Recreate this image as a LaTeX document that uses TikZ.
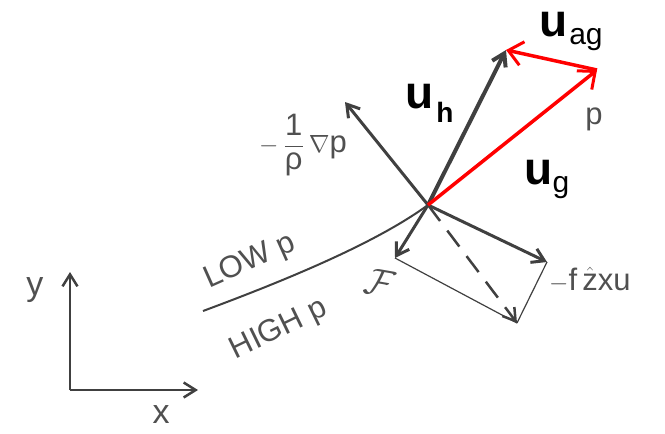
\documentclass[tikz,border=0pt]{standalone}
\usepackage{amsmath}
\usepackage{fontspec}
\setmainfont{Liberation Sans}
\usetikzlibrary{arrows.meta}

\definecolor{vecgray}{RGB}{64,64,64}
\definecolor{txtgray}{RGB}{80,80,80}

\begin{document}
\begin{tikzpicture}[x=1pt,y=-1pt,>={Straight Barb[length=12pt,width=15pt]},
    gvec/.style={draw=vecgray,line width=3pt,->},
    rvec/.style={draw=red,line width=3.5pt,->,>={Straight Barb[length=14pt,width=24pt,line width=3pt]}},
    fline/.style={draw=vecgray,line width=1.2pt},
    glbl/.style={text=txtgray,font=\fontsize{31}{33}\selectfont,inner sep=0pt},
    blbl/.style={font=\fontsize{46}{48}\selectfont\bfseries,inner sep=0pt}]
            \useasboundingbox (0,0) rectangle (665,434);
            % points of the vector diagram
            \coordinate (O) at (428,205);
            \coordinate (uh) at (506,50);
            \coordinate (ug) at (597,70);
            \coordinate (gp) at (345,102);
            \coordinate (cor) at (547,262);
            \coordinate (fr) at (395,258);
            \coordinate (res) at (517,323);
            \coordinate (iso) at (203,311);
            % axes
            \coordinate (ax) at (70,390);
            \coordinate (ay) at (70,272);
            \coordinate (axx) at (198,390);
            \draw [gvec,line width=2.5pt] (ax) -- (ay);
            \draw [gvec,line width=2.5pt] (ax) -- (axx);
            \node [glbl,font=\fontsize{34}{36}\selectfont] (ylab) at (35,290) {y};
            \node [glbl,font=\fontsize{34}{36}\selectfont] (xlab) at (161,415) {x};
            % isobar
            \draw [draw=vecgray,line width=2pt] (iso) .. controls (300,275) and (380,240) .. (O);
            \node [glbl,rotate=24] (low) at (250,262) {LOW p};
            \node [glbl,rotate=26] (high) at (279,330) {HIGH p};
            % forces
            \draw [fline] (fr) -- (res);
            \draw [fline] (cor) -- (res);
            \draw [gvec,line width=2.5pt,dash pattern=on 20pt off 12pt] (O) -- (res);
            \draw [gvec] (O) -- (gp);
            \draw [gvec] (O) -- (cor);
            \draw [gvec] (O) -- (fr);
            \draw [gvec,line width=4pt] (O) -- (uh);
            \node [glbl] (gplab) at (303,145) {$-$\,$\dfrac{\text{1}}{\text{ρ}}$\,$\nabla$p};
            \node [glbl,anchor=west] (corlab) at (549,280) {$-$f\,$\hat{\text{z}}$xu};
            \node [glbl,scale=1.5,rotate=-10] (frlab) at (380,283) {$\mathcal{F}$};
            % winds
            \draw [rvec] (O) -- (ug);
            \draw [rvec] (ug) -- (uh);
            \node [glbl] (plab) at (594,119) {p};
            \node [blbl] (uhlab) at (420,97) {u};
            \node [font=\fontsize{28}{30}\selectfont\bfseries,inner sep=0pt] (uhsub) at (445,112) {h};
            \node [blbl] (uglab) at (539,173) {u};
            \node [font=\fontsize{30}{32}\selectfont,inner sep=0pt] (ugsub) at (561,188) {g};
            \node [blbl] (uaglab) at (554,25) {u};
            \node [font=\fontsize{30}{32}\selectfont,inner sep=0pt] (uagsub) at (586,40) {ag};
        \end{tikzpicture}
\end{document}
